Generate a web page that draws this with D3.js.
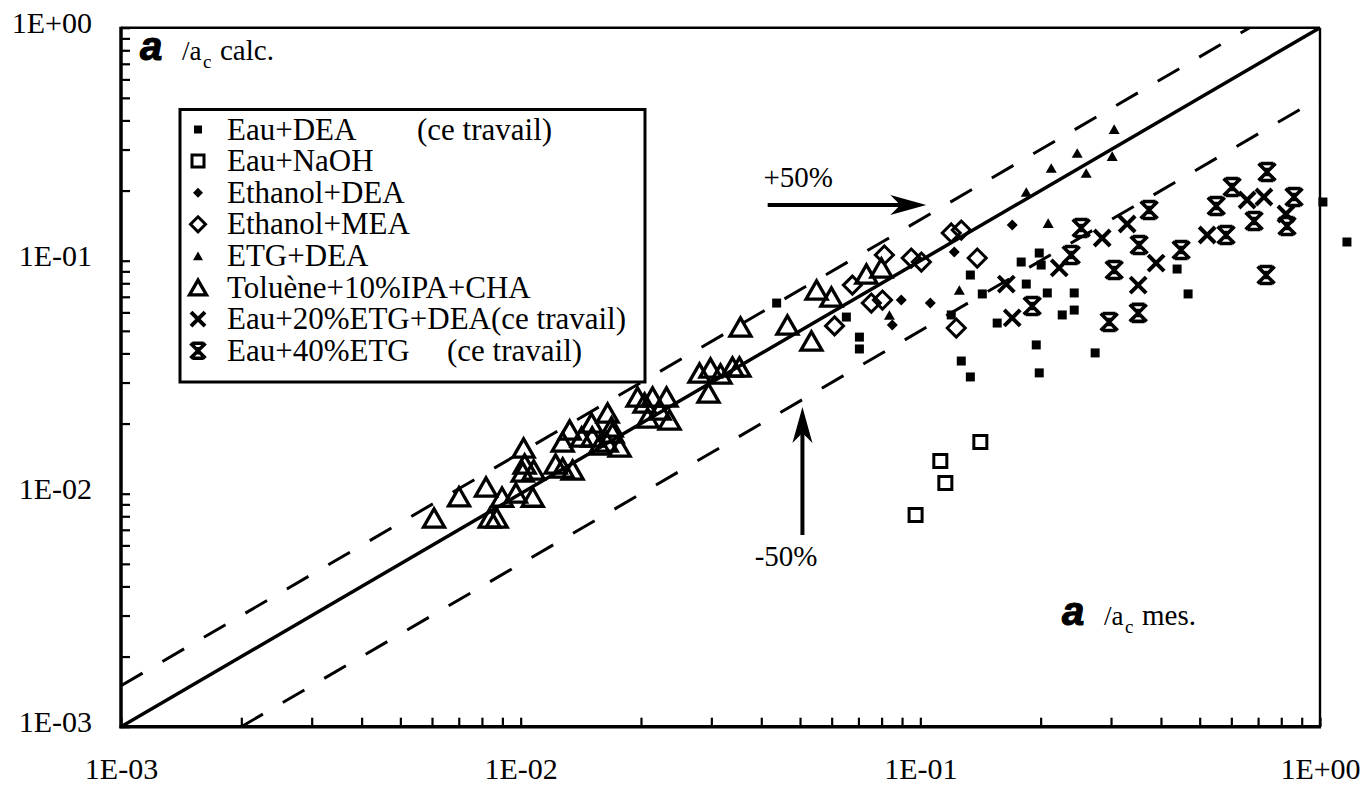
<!DOCTYPE html>
<html><head><meta charset="utf-8">
<script src="https://cdn.jsdelivr.net/npm/d3@7"></script>
<style>body{margin:0;background:#fff}svg{display:block}</style>
</head><body><svg id="c" width="1364" height="785"></svg>
<script>
// ---------- data ----------
const seriesNames = ["Eau+DEA","Eau+NaOH","Ethanol+DEA","Ethanol+MEA","ETG+DEA","Toluène+10%IPA+CHA","Eau+20%ETG+DEA","Eau+40%ETG"];
const legendNotes = ["(ce travail)","","","","","","(ce travail)","(ce travail)"];

const eauDEA_x = [0.0437,0.0653,0.0704,0.0704,0.1195,0.1334,0.1429,0.1266,0.1334,0.1788,0.1984,0.2006,0.1841,0.2078,0.195,0.1984,0.2427,0.2427,0.2265,0.1557,0.2738,0.439,0.4677,1.017,1.168];
const eauDEA_y = [0.0658,0.0573,0.047,0.0418,0.0585,0.0868,0.072,0.0371,0.0317,0.0987,0.1079,0.0958,0.0794,0.0727,0.0435,0.033,0.0727,0.0614,0.0585,0.054,0.0402,0.0921,0.072,0.1786,0.1203];

const naoh_x = [0.1413,0.1122,0.1155,0.0973];
const naoh_y = [0.01667,0.01381,0.01111,0.0081];

const ethDEA_x = [0.0896,0.1059,0.0851,0.1216,0.1698];
const ethDEA_y = [0.0678,0.0658,0.053,0.109,0.1423];

const ethMEA_x = [0.061,0.0676,0.0754,0.0804,0.0813,0.0949,0.1006,0.1195,0.1266,0.123,0.1388];
const ethMEA_y = [0.0525,0.0786,0.0658,0.0678,0.1058,0.1027,0.0987,0.1315,0.1354,0.0514,0.1027];

const etgDEA_x = [0.3055,0.2469,0.2126,0.302,0.26,0.1841,0.2089,0.1252,0.0837];
const etgDEA_y = [0.367,0.29,0.25,0.281,0.238,0.197,0.145,0.0748,0.0585];

const tol_x = [0.00607,0.00701,0.00819,0.00898,0.00973,0.01072,0.00837,0.00871,0.01017,0.01023,0.01012,0.01078,0.01223,0.01274,0.01349,0.01326,0.01274,0.01421,0.01504,0.0151,0.0165,0.01688,0.01576,0.01641,0.01768,0.01698,0.01961,0.02042,0.02138,0.02317,0.02078,0.02358,0.02226,0.02802,0.02985,0.03162,0.03388,0.03527,0.02951,0.03548,0.0465,0.0534,0.055,0.0599,0.0733,0.0799];
const tol_y = [0.00786,0.00971,0.01068,0.00967,0.01007,0.00967,0.00786,0.00786,0.01571,0.01341,0.01239,0.01264,0.01341,0.01289,0.01264,0.01877,0.01667,0.01751,0.02011,0.01751,0.0222,0.01933,0.01618,0.01667,0.01586,0.01822,0.026,0.02451,0.026,0.026,0.02113,0.02072,0.02287,0.03296,0.03463,0.03264,0.03498,0.03498,0.02705,0.05195,0.05297,0.04523,0.07484,0.06985,0.0877,0.0931];

const etg20_x = [0.1641,0.1698,0.2226,0.2851,0.3292,0.3508,0.389,0.522,0.657,0.724,0.822];
const etg20_y = [0.0794,0.0568,0.0931,0.1251,0.1437,0.0786,0.0977,0.1289,0.1822,0.1877,0.1586];

const etg40_x = [0.1905,0.2968,0.3508,0.733,0.2526,0.2385,0.3527,0.3055,0.3736,0.4493,0.582,0.55,0.6026,0.737,0.861,0.684,0.827];
const etg40_y = [0.0639,0.0546,0.0597,0.0868,0.1381,0.1058,0.1168,0.0912,0.1651,0.1111,0.1289,0.1717,0.2072,0.2403,0.1877,0.148,0.1409];

const majorTicks = [0.001,0.01,0.1,1];
const xTickLabels = ["1E-03","1E-02","1E-01","1E+00"];
const yTickLabels = ["1E-03","1E-02","1E-01","1E+00"];
const refLines = [{k:1,dash:false},{k:1.5,dash:true},{k:0.5,dash:true}];
const annPlus = {label:"+50%", x0:0.0415, x1:0.1035, y:0.1734, tx:0.0405, ty:0.207};
const annMinus = {label:"-50%", x:0.0507, y0:0.00665, y1:0.02355, tx:0.0385, ty:0.00489};

// ---------- drawing ----------
const L=121,R=1320,T=27.7,B=726.7;
const svg=d3.select('#c');
const x=d3.scaleLog().domain([1e-3,1]).range([L,R]);
const y=d3.scaleLog().domain([1e-3,1]).range([B,T]);
const serif='"Liberation Serif","Times New Roman",Times,serif';

function majorIndex(d){const l=Math.log10(d);return Math.abs(l-Math.round(l))<1e-6?majorTicks.findIndex(m=>Math.abs(Math.log10(m)-l)<1e-6):-1;}

const xa=svg.append('g').attr('transform',`translate(0,${B})`)
  .call(d3.axisBottom(x).tickValues(x.ticks()).tickSize(-9).tickSizeOuter(0).tickPadding(31)
    .tickFormat(d=>{const i=majorIndex(d);return i>=0?xTickLabels[i]:'';}));
const ya=svg.append('g').attr('transform',`translate(${L},0)`)
  .call(d3.axisLeft(y).tickValues(y.ticks()).tickSize(-9).tickSizeOuter(0).tickPadding(29)
    .tickFormat(d=>{const i=majorIndex(d);return i>=0?yTickLabels[i]:'';}));
[xa,ya].forEach(g=>{
  g.select('.domain').remove();
  g.selectAll('line').attr('stroke','#000').attr('stroke-width',2.2);
  g.selectAll('text').attr('font-family',serif).attr('font-size',30).attr('fill','#000');
});
ya.selectAll('text').attr('dy','0.17em');

// frame
svg.append('line').attr('x1',L).attr('x2',R).attr('y1',T).attr('y2',T).attr('stroke','#000').attr('stroke-width',2.6);
svg.append('line').attr('x1',R).attr('x2',R).attr('y1',T).attr('y2',B).attr('stroke','#000').attr('stroke-width',2.4);
svg.append('line').attr('x1',L).attr('x2',L).attr('y1',T-1).attr('y2',B+1.5).attr('stroke','#000').attr('stroke-width',3.5);
svg.append('line').attr('x1',L-1.5).attr('x2',R+1).attr('y1',B).attr('y2',B).attr('stroke','#000').attr('stroke-width',3.5);

// reference lines
svg.append('clipPath').attr('id','clip').append('rect').attr('x',L).attr('y',T).attr('width',R-L).attr('height',B-T);
const lg=svg.append('g').attr('clip-path','url(#clip)');
refLines.forEach(r=>{
  const x0=Math.max(1e-3,1e-3/r.k), x1=Math.min(1,1/r.k);
  lg.append('line').attr('x1',x(x0)).attr('y1',y(x0*r.k)).attr('x2',x(x1)).attr('y2',y(x1*r.k))
    .attr('stroke','#000').attr('stroke-width',r.dash?3:3.5)
    .attr('stroke-dasharray',r.dash?'25,23':null);
});

// markers
function shape(type,s){
  switch(type){
    case 'sqFill': return `M${-s/2},${-s/2}h${s}v${s}h${-s}Z`;
    case 'sqOpen': return `M${-s/2},${-s/2}h${s}v${s}h${-s}Z`;
    case 'diaFill': case 'diaOpen': return `M0,${-s/2}L${s/2},0L0,${s/2}L${-s/2},0Z`;
    case 'triFill': case 'triOpen': {const h=s*0.87;return `M0,${-h/2}L${s/2},${h/2}L${-s/2},${h/2}Z`;}
    case 'x': return `M${-s/2},${-s/2}L${s/2},${s/2}M${s/2},${-s/2}L${-s/2},${s/2}`;
    case 'ast': {const a=s/2;return `M${-a},${-a}L${a},${a}M${a},${-a}L${-a},${a}M${-a*0.75},${-a}H${a*0.75}M${-a*0.75},${a}H${a*0.75}M0,${-a*0.5}V${a*0.5}`;}
  }
}
const styles={
  sqFill:{fill:'#000',stroke:'none',sw:0},
  sqOpen:{fill:'none',stroke:'#000',sw:3},
  diaFill:{fill:'#000',stroke:'none',sw:0},
  diaOpen:{fill:'none',stroke:'#000',sw:3},
  triFill:{fill:'#000',stroke:'none',sw:0},
  triOpen:{fill:'none',stroke:'#000',sw:3.3},
  x:{fill:'none',stroke:'#000',sw:4},
  ast:{fill:'none',stroke:'#000',sw:3.6}
};
const series=[
  {xs:eauDEA_x,ys:eauDEA_y,t:'sqFill',s:9,ls:8},
  {xs:naoh_x,ys:naoh_y,t:'sqOpen',s:13,ls:12},
  {xs:ethDEA_x,ys:ethDEA_y,t:'diaFill',s:11,ls:10},
  {xs:ethMEA_x,ys:ethMEA_y,t:'diaOpen',s:18,ls:15},
  {xs:etgDEA_x,ys:etgDEA_y,t:'triFill',s:11,ls:10},
  {xs:tol_x,ys:tol_y,t:'triOpen',s:21,ls:17},
  {xs:etg20_x,ys:etg20_y,t:'x',s:16,ls:14},
  {xs:etg40_x,ys:etg40_y,t:'ast',s:17,ls:15}
];
const pg=svg.append('g');
series.forEach(se=>{
  const st=styles[se.t];
  pg.selectAll(null).data(d3.zip(se.xs,se.ys)).join('path')
    .attr('transform',d=>`translate(${x(d[0])},${y(d[1])})`)
    .attr('d',shape(se.t,se.s)).attr('fill',st.fill).attr('stroke',st.stroke).attr('stroke-width',st.sw)
    .attr('stroke-linejoin','miter');
});

// annotations
function arrowHead(tx,ty,dir){
  const len=36,w=10,back=26;
  if(dir==='right') return `M${tx},${ty}L${tx-len},${ty-w}L${tx-back},${ty}L${tx-len},${ty+w}Z`;
  return `M${tx},${ty}L${tx-w},${ty+len}L${tx},${ty+back}L${tx+w},${ty+len}Z`;
}
svg.append('line').attr('x1',x(annPlus.x0)).attr('x2',x(annPlus.x1)-20).attr('y1',y(annPlus.y)).attr('y2',y(annPlus.y)).attr('stroke','#000').attr('stroke-width',4);
svg.append('path').attr('d',arrowHead(x(annPlus.x1),y(annPlus.y),'right')).attr('fill','#000');
svg.append('text').attr('x',x(annPlus.tx)).attr('y',y(annPlus.ty)).text(annPlus.label).attr('font-family',serif).attr('font-size',29);
svg.append('line').attr('x1',x(annMinus.x)).attr('x2',x(annMinus.x)).attr('y1',y(annMinus.y0)).attr('y2',y(annMinus.y1)+20).attr('stroke','#000').attr('stroke-width',4);
svg.append('path').attr('d',arrowHead(x(annMinus.x),y(annMinus.y1),'up')).attr('fill','#000');
svg.append('text').attr('x',x(annMinus.tx)).attr('y',y(annMinus.ty)).text(annMinus.label).attr('font-family',serif).attr('font-size',29);

// axis titles
function axisTitle(x0,base,word){
  const g=svg.append('g');
  g.append('text').attr('x',x0).attr('y',base).text('a').attr('font-family','"Liberation Sans",Arial,sans-serif').attr('font-weight','bold').attr('font-style','italic').attr('font-size',40).attr('stroke','#000').attr('stroke-width',1.2);
  g.append('text').attr('x',x0+42).attr('y',base).text('/a').attr('font-family',serif).attr('font-size',27);
  g.append('text').attr('x',x0+63).attr('y',base+8).text('c').attr('font-family',serif).attr('font-size',19);
  g.append('text').attr('x',x0+80).attr('y',base).text(word).attr('font-family',serif).attr('font-size',29);
}
axisTitle(140,60,'calc.');
axisTitle(1062,625,'mes.');

// legend
const leg=svg.append('g');
leg.append('rect').attr('x',180).attr('y',109.5).attr('width',465).attr('height',272.5).attr('fill','#fff').attr('stroke','#000').attr('stroke-width',3);
series.forEach((se,i)=>{
  const base=139.5+i*31.6;
  const st=styles[se.t];
  leg.append('path').attr('transform',`translate(198,${base-10})`).attr('d',shape(se.t,se.ls))
    .attr('fill',st.fill).attr('stroke',st.stroke).attr('stroke-width',st.sw);
  const t=leg.append('text').attr('x',227).attr('y',base).attr('font-family',serif).attr('font-size',31);
  if(i===0){t.text(seriesNames[i]);leg.append('text').attr('x',417).attr('y',base).attr('font-family',serif).attr('font-size',31).text(legendNotes[i]);}
  else if(i===7){t.text(seriesNames[i]);leg.append('text').attr('x',447).attr('y',base).attr('font-family',serif).attr('font-size',31).text(legendNotes[i]);}
  else t.text(seriesNames[i]+legendNotes[i]);
});
</script></body></html>
